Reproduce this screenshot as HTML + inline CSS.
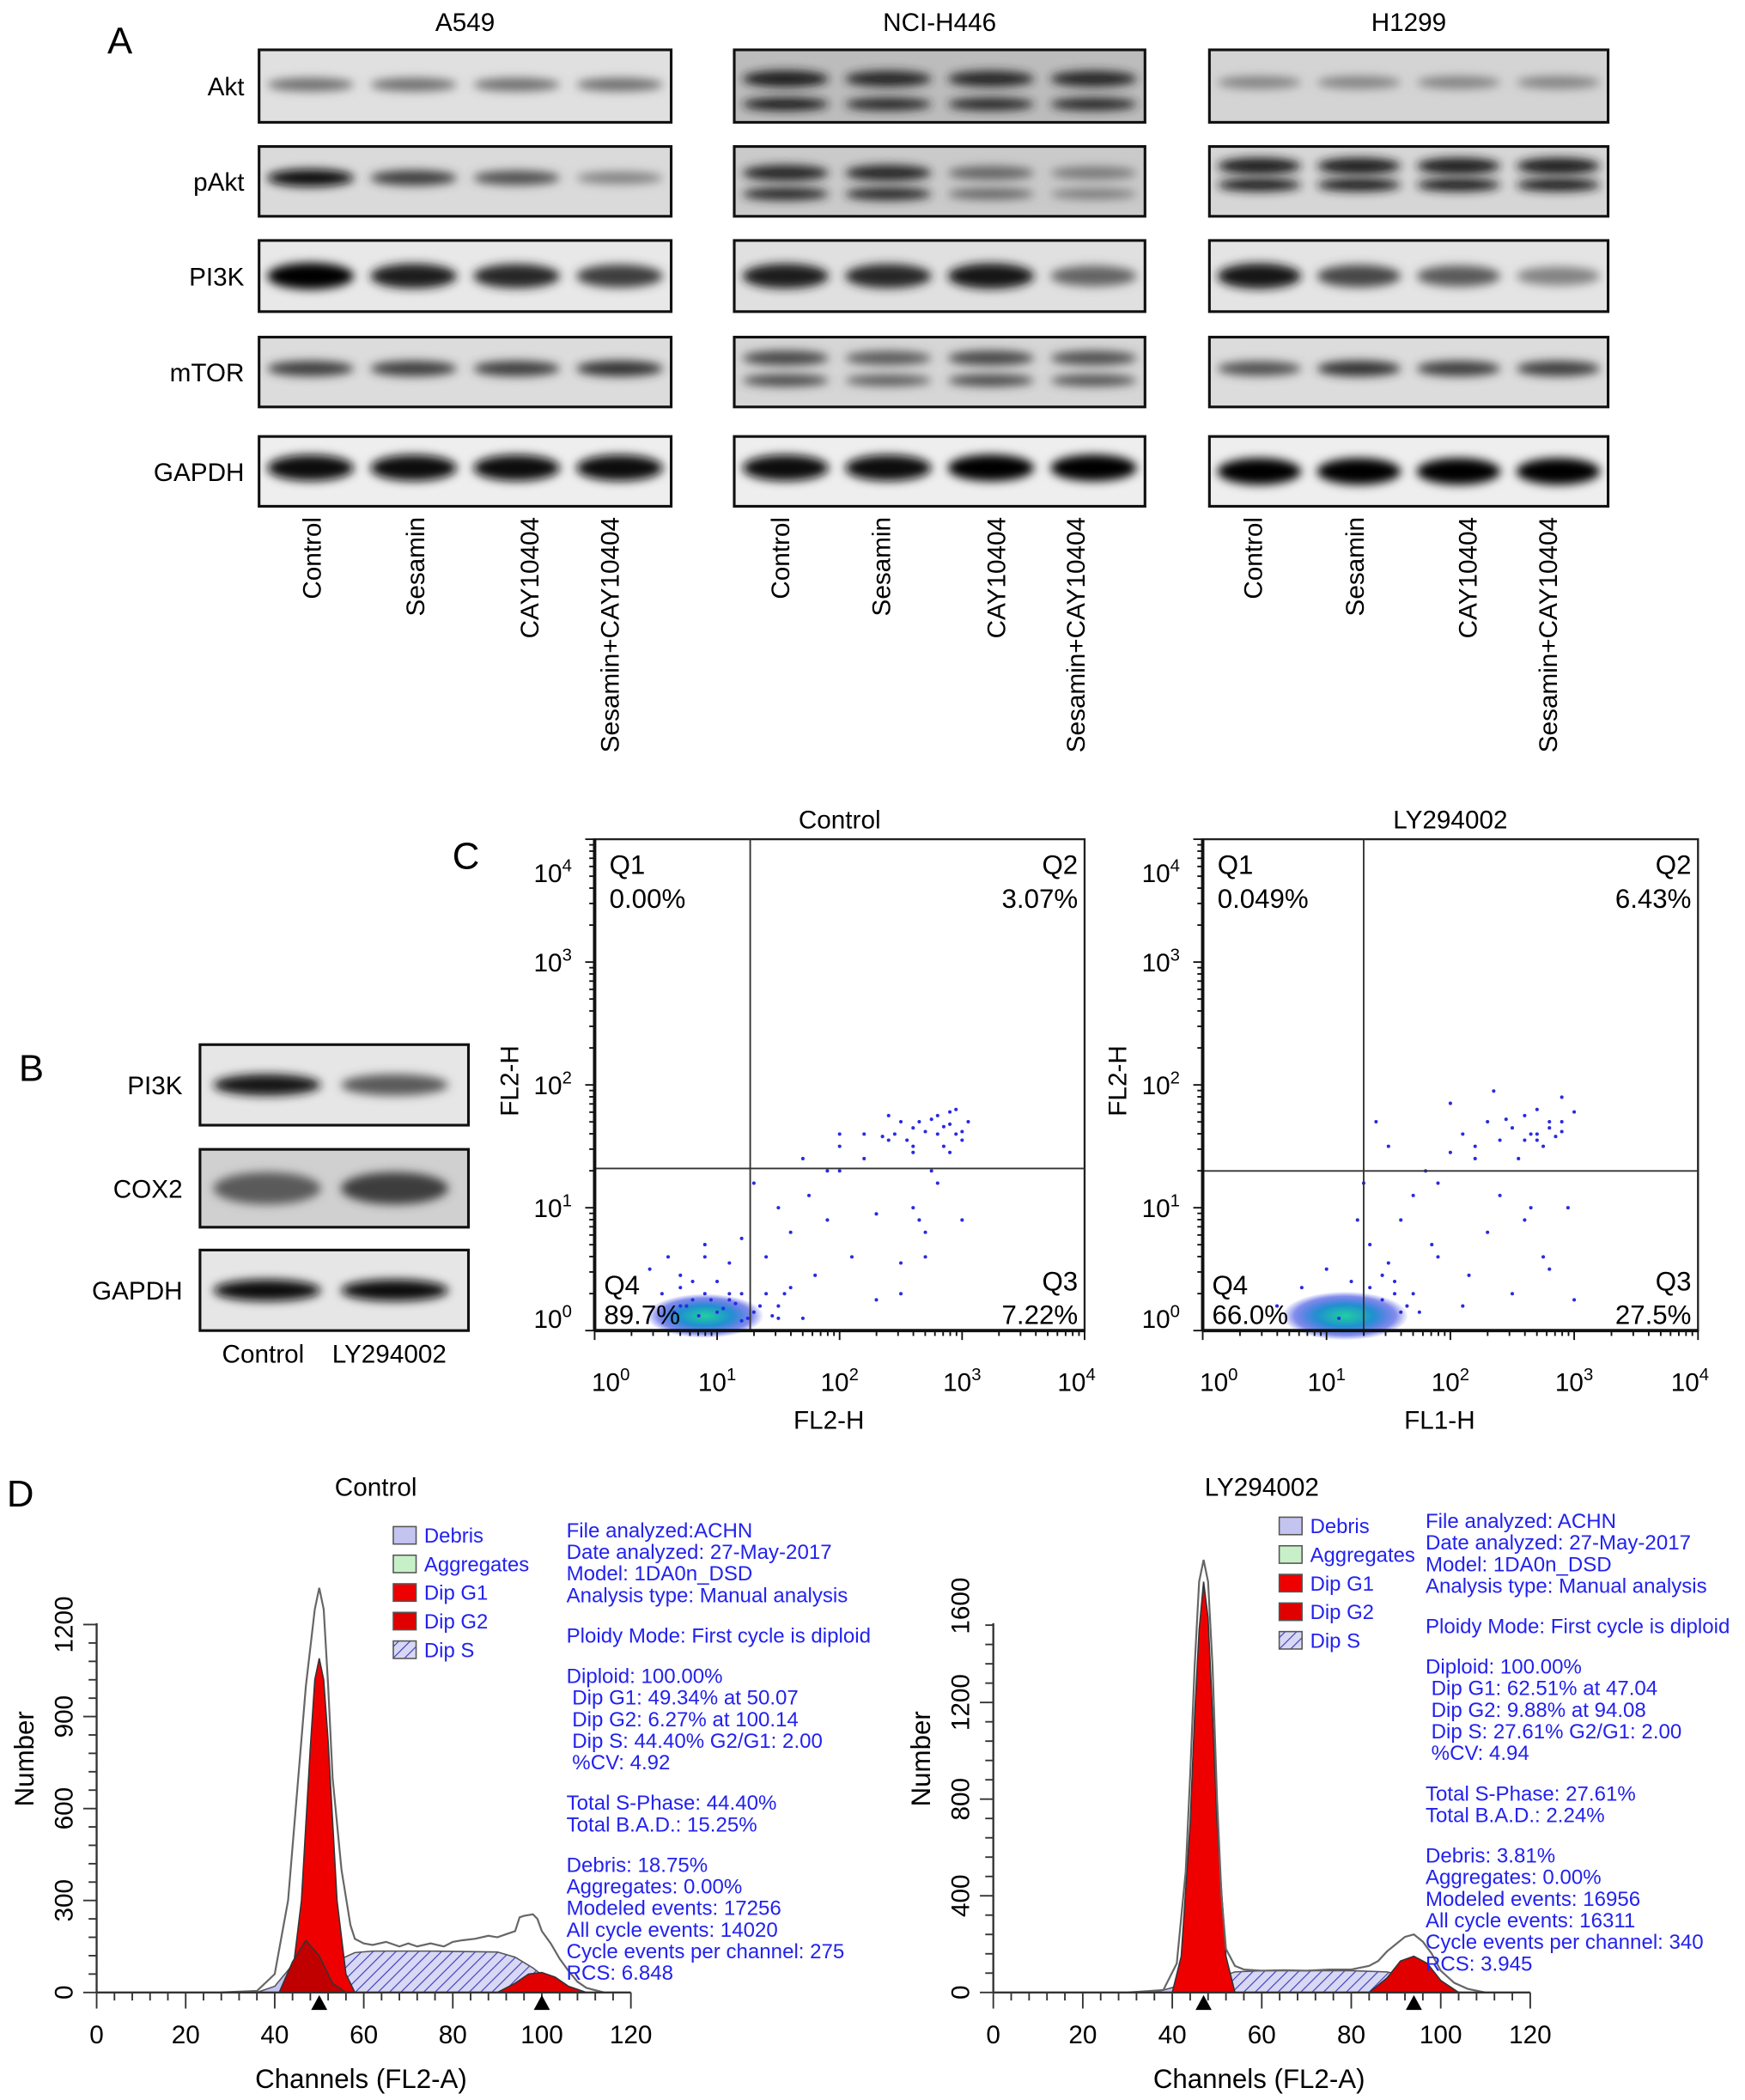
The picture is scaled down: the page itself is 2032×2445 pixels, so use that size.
<!DOCTYPE html>
<html><head><meta charset="utf-8"><style>
html,body{margin:0;padding:0;background:#fff}
svg{display:block}
text{font-family:"Liberation Sans",sans-serif}
</style></head><body>
<svg id="fig" width="2032" height="2445" viewBox="0 0 1300 1564" xmlns="http://www.w3.org/2000/svg">
<defs>
<filter id="blur" x="-50%" y="-100%" width="200%" height="300%"><feGaussianBlur stdDeviation="3.5"/></filter>
<pattern id="hatch" width="6" height="6" patternUnits="userSpaceOnUse" patternTransform="rotate(45)">
<rect width="6" height="6" fill="#d8d8f4"/><line x1="0" y1="0" x2="0" y2="6" stroke="#4040c0" stroke-width="1.5"/></pattern>
<radialGradient id="blob"><stop offset="0" stop-color="#20d0a0"/><stop offset="0.45" stop-color="#2090d0"/><stop offset="0.8" stop-color="#3040e0" stop-opacity="0.6"/><stop offset="1" stop-color="#3040e0" stop-opacity="0"/></radialGradient>
</defs>
<g id="panelA"></g>
<g id="panelB"></g>
<g id="panelC"></g>
<g id="panelD"></g>
</svg>
<script>
// ---------- Western blot data (band intensities 0..1 per lane) ----------
const blotPanels = ["A549","NCI-H446","H1299"];
const blotRows = ["Akt","pAkt","PI3K","mTOR","GAPDH"];
const a549Bands = [[0.45,0.45,0.45,0.45],[0.95,0.7,0.6,0.35],[1,0.85,0.8,0.7],[0.7,0.7,0.7,0.75],[0.95,0.95,0.95,0.95]];
const nciBands = [[0.85,0.8,0.8,0.8],[0.8,0.8,0.5,0.4],[0.85,0.8,0.9,0.5],[0.65,0.55,0.65,0.6],[0.95,0.95,1,1]];
const h1299Bands = [[0.35,0.35,0.35,0.35],[0.85,0.85,0.85,0.85],[0.9,0.65,0.55,0.35],[0.6,0.75,0.7,0.7],[1,1,1,1]];
const laneLabels = ["Control","Sesamin","CAY10404","Sesamin+CAY10404"];
const bRows = ["PI3K","COX2","GAPDH"];
const bBands = [[0.9,0.55],[0.55,0.7],[0.95,0.95]];
const bLanes = ["Control","LY294002"];

// ---------- Flow cytometry scatter data (log10 units) ----------
const ctrlX = [0.45,0.55,0.6,0.7,0.8,0.9,1.0,1.1,1.2,1.3,1.4,1.5,1.6,1.7,1.8,1.3,1.5,1.7,1.9,2.0,2.2,2.4,2.5,2.6,2.7,2.8,2.9,3.0,3.05,2.9,2.8,2.7,2.6,2.5,2.3,2.1,1.9,1.6,1.4,2.2,2.6,2.95,2.85,2.75,2.65,1.75,2.0,2.4,1.2,0.9,0.7,1.1,1.5,2.3,2.7,3.0,2.5,2.0,0.65,0.75,0.85,0.95,1.05,1.15,1.25,1.35,0.7,0.8,0.9,1.0,1.1,1.2,1.45,1.55,2.45,2.55,2.65,2.75,2.85,2.95,2.35,2.6,2.8,2.9,3.0];
const ctrlY = [0.5,0.3,0.6,0.45,0.25,0.7,0.4,0.55,0.3,0.15,0.6,0.2,0.35,0.1,0.45,1.2,1.0,1.4,1.3,1.6,1.4,1.55,1.7,1.5,1.62,1.75,1.68,1.55,1.7,1.45,1.2,0.8,1.0,0.55,0.25,0.6,0.9,0.8,0.3,1.6,1.65,1.8,1.5,1.3,0.9,1.1,1.5,1.75,0.75,0.6,0.2,0.3,0.1,0.95,0.6,0.9,0.3,1.3,0.15,0.2,0.12,0.25,0.18,0.22,0.1,0.2,0.35,0.4,0.3,0.15,0.25,0.08,0.12,0.3,1.6,1.55,1.7,1.72,1.66,1.6,1.58,1.45,1.6,1.78,1.62];
const lyX = [0.6,0.8,1.0,1.2,1.35,1.5,1.6,1.7,1.8,1.9,2.0,2.1,2.2,2.3,2.4,2.5,2.6,2.7,2.8,2.9,3.0,2.55,2.65,2.75,2.5,2.3,2.1,1.9,1.7,1.5,1.4,1.3,2.0,2.2,2.4,2.6,2.8,3.0,2.7,2.9,2.45,1.6,1.85,2.35,2.95,1.25,1.1,2.15,2.6,2.7,2.8,2.9,2.75,2.65,2.85,1.45,1.55,1.65,1.75,1.35,1.45,1.55];
const lyY = [0.2,0.35,0.5,0.4,0.7,0.55,0.9,1.1,1.3,1.2,1.45,1.6,1.5,1.7,1.55,1.65,1.75,1.8,1.7,1.62,1.78,1.4,1.0,0.6,0.3,0.8,0.2,0.6,0.3,1.5,1.7,1.2,1.85,1.4,1.1,0.9,0.5,0.25,1.55,1.9,1.72,0.15,0.7,1.95,1.0,0.9,0.1,0.45,1.55,1.6,1.65,1.7,1.5,1.6,1.58,0.25,0.3,0.2,0.15,0.35,0.45,0.4];
const logTicks = ["0","1","2","3","4"];

// ---------- Cell cycle histogram data (channel, count) ----------
const cHistCh = [28,36,40,43,45,47,49,50,51,52,53,55,57,58,60,62,65,68,70,72,75,78,80,82,85,88,90,92,94,95,96,98,99,100,102,104,106,108,110,114];
const cHistN  = [0,5,60,300,650,1000,1250,1320,1250,1000,700,400,220,175,160,155,165,150,160,150,160,150,165,170,175,185,180,190,200,245,250,255,240,200,160,110,70,35,15,0];
const cG1Ch = [42,44,46,48,49,50,51,52,54,56,58];
const cG1N  = [0,60,300,800,1020,1090,1020,820,300,60,0];
const cG1bCh = [41,44,47,50,53,56];
const cG1bN  = [0,100,170,120,30,0];
const cSCh = [49,52,55,58,62,75,90,94,98,102,106];
const cSN  = [0,50,110,130,135,135,132,115,80,35,0];
const cDebCh = [36,40,44,48,52,56,60,70,80,90,95,100,105,110];
const cDebN  = [0,20,90,120,90,60,45,45,45,45,40,30,15,0];
const cG2Ch = [90,94,97,100,103,106,110];
const cG2N  = [0,30,60,65,50,20,0];

const lHistCh = [30,38,41,43,44,45,46,47,48,49,50,51,52,54,56,60,65,70,75,80,84,86,88,90,92,94,96,98,100,103,106,110];
const lHistN  = [0,10,120,500,900,1350,1700,1790,1700,1350,800,400,180,110,95,90,92,90,95,95,110,130,170,200,230,240,210,160,90,40,15,0];
const lG1Ch = [40,42,44,45,46,47,48,49,50,52,54];
const lG1N  = [0,150,700,1150,1500,1700,1550,1150,700,150,0];
const lSCh = [46,50,54,60,80,88,92,96,100];
const lSN  = [0,60,85,90,90,85,70,40,0];
const lDebCh = [36,40,44,48,52,60,80,95,105];
const lDebN  = [0,20,60,60,30,20,15,10,0];
const lG2Ch = [84,88,91,94,97,100,104];
const lG2N  = [0,60,130,150,120,50,0];

const NS = "http://www.w3.org/2000/svg";
function mk(tag, attrs, parent, txt){
  const e = document.createElementNS(NS, tag);
  for (const k in attrs) e.setAttribute(k, attrs[k]);
  if (txt !== undefined) e.textContent = txt;
  parent.appendChild(e); return e;
}

// ---------- Panel A ----------
const A = document.getElementById('panelA');
let t = mk('text',{x:80,y:40,'font-size':28},A,'A');


const panelX = [[193,500],[547,853],[901,1198]];
const rowY = [[37,91],[109,161],[179,232],[251,303],[325,377]];
const bandOffsets = [[[0.48]],[[0.45]],[[0.5]],[[0.45]],[[0.45]]];
const nciOffsets = [[0.4,0.75],[0.38,0.68],[0.5],[0.3,0.62],[0.45]];
const hOffsets = [[0.45],[0.28,0.55],[0.5],[0.45],[0.5]];
const allBands = [a549Bands,nciBands,h1299Bands];
const bgs = [["#e0e0e0","#dadada","#e8e8e8","#dcdcdc","#eeeeee"],["#bcbcbc","#cacaca","#e0e0e0","#d6d6d6","#eeeeee"],["#d4d4d4","#d6d6d6","#e4e4e4","#dcdcdc","#eeeeee"]];
const laneCenters = [[233,310,395,455],[582,657,743,802],[934,1010,1094,1154]];
blotPanels.forEach((p,pi)=>{
  const cx = (panelX[pi][0]+panelX[pi][1])/2;
  t = mk('text',{x:cx,y:23,'font-size':19,'text-anchor':'middle'},A,p);
  
  
  blotRows.forEach((r,ri)=>{
    const [x0,x1] = panelX[pi]; const [y0,y1] = rowY[ri];
    const g = mk('g',{},A);
    
    
    mk('rect',{x:x0,y:y0,width:x1-x0,height:y1-y0,fill:bgs[pi][ri],stroke:'#111','stroke-width':2},g);
    const offs = pi===0?bandOffsets[ri][0]:(pi===1?nciOffsets[ri]:hOffsets[ri]);
    const w = (x1-x0)/4;
    allBands[pi][ri].forEach((v,li)=>{
      offs.forEach((o,oi)=>{
        const lc = x0 + w*(li+0.5);
        const gray = Math.round(200*(1-v));
        const band = mk('ellipse',{cx:lc,cy:y0+(y1-y0)*o,rx:w*0.42,ry:(ri===2||ri===4?9:6)*(0.6+0.5*v)*(oi?0.8:1),fill:`rgb(${gray},${gray},${gray})`,filter:'url(#blur)'},g);
        
        
      });
    });
    if (pi===0){
      t = mk('text',{x:182,y:(y0+y1)/2+7,'font-size':19,'text-anchor':'end'},A,r);
      
      
    }
  });
  laneLabels.forEach((l,li)=>{
    const x = laneCenters[pi][li]+6;
    t = mk('text',{x:x,y:385,'font-size':19,'text-anchor':'end',transform:`rotate(-90 ${x} 385)`},A,l);
    
    
  });
});

// ---------- Panel B ----------
const B = document.getElementById('panelB');
t = mk('text',{x:14,y:805,'font-size':28},B,'B');


const bY = [[778,838],[856,914],[931,991]];
bRows.forEach((r,ri)=>{
  const g = mk('g',{},B);
  
  
  mk('rect',{x:149,y:bY[ri][0],width:200,height:bY[ri][1]-bY[ri][0],fill:ri===1?'#d0d0d0':'#e6e6e6',stroke:'#111','stroke-width':2},g);
  bBands[ri].forEach((v,li)=>{
    const gray = Math.round(200*(1-v));
    const band = mk('ellipse',{cx:199+li*95,cy:(bY[ri][0]+bY[ri][1])/2,rx:40,ry:ri===1?12:8,fill:`rgb(${gray},${gray},${gray})`,filter:'url(#blur)'},g);
    
    
  });
  t = mk('text',{x:136,y:(bY[ri][0]+bY[ri][1])/2+7,'font-size':19,'text-anchor':'end'},B,r);
  
  
});
bLanes.forEach((l,li)=>{
  t = mk('text',{x:196+li*94,y:1015,'font-size':19,'text-anchor':'middle'},B,l);
  
  
});

// ---------- Panel C ----------
const C = document.getElementById('panelC');
t = mk('text',{x:337,y:647,'font-size':28},C,'C');


const plots = [
  {x0:443,x1:808,title:'Control',xl:'FL2-H',xs:ctrlX,ys:ctrlY,gx:1.27,gy:1.32,q:['Q1','0.00%','Q2','3.07%','Q3','7.22%','Q4','89.7%'],blob:[0.9,0.12,0.8,0.2]},
  {x0:896,x1:1265,title:'LY294002',xl:'FL1-H',xs:lyX,ys:lyY,gx:1.3,gy:1.3,q:['Q1','0.049%','Q2','6.43%','Q3','27.5%','Q4','66.0%'],blob:[1.15,0.12,0.85,0.22]}
];
plots.forEach((p,pi)=>{
  const g = mk('g',{},C);
  
  
  const y0 = 991, dec = 91.5, dx = (p.x1-p.x0)/4;
  const X = v=>p.x0+v*dx, Y = v=>y0-v*dec;
  t = mk('text',{x:(p.x0+p.x1)/2,y:617,'font-size':19,'text-anchor':'middle'},g,p.title);
  
  
  const b = mk('ellipse',{cx:X(p.blob[0]),cy:Y(p.blob[1]),rx:p.blob[2]*dx*0.6,ry:p.blob[3]*dec*0.9,fill:'url(#blob)'},g);
  
  
  p.xs.forEach((xv,i)=>{
    const d = mk('circle',{cx:X(xv),cy:Y(p.ys[i]),r:1.3,fill:'#2a2ae0'},g);
    
    
  });
  mk('rect',{x:p.x0,y:625,width:p.x1-p.x0,height:y0-625,fill:'none',stroke:'#222','stroke-width':1.5},g);
  mk('line',{x1:X(p.gx),y1:625,x2:X(p.gx),y2:y0,stroke:'#333','stroke-width':1.2},g);
  mk('line',{x1:p.x0,y1:Y(p.gy),x2:p.x1,y2:Y(p.gy),stroke:'#333','stroke-width':1.2},g);
  mk('line',{x1:p.x0,y1:y0,x2:p.x1,y2:y0,stroke:'#111','stroke-width':2.5},g);
  mk('line',{x1:p.x0,y1:625,x2:p.x0,y2:y0,stroke:'#111','stroke-width':2.5},g);
  logTicks.forEach((lt,k)=>{
    for (let m=1;m<10;m++){
      const v = k+Math.log10(m); if (v>4) break;
      const len = m===1?7:4;
      mk('line',{x1:X(v),y1:y0,x2:X(v),y2:y0+len,stroke:'#111','stroke-width':1.2},g);
      mk('line',{x1:p.x0,y1:Y(v),x2:p.x0-len,y2:Y(v),stroke:'#111','stroke-width':1.2},g);
    }
    t = mk('text',{x:X(+lt)+12*(k===0?1:(k===4?-0.5:0)),y:1036,'font-size':19,'text-anchor':'middle'},g);
    
    
    t.innerHTML = '10<tspan dy="-8" font-size="13">'+lt+'</tspan>';
    t = mk('text',{x:p.x0-17,y:Y(+lt)+(k===4?32:(k===0?-2:7)),'font-size':19,'text-anchor':'end'},g);
    
    
    t.innerHTML = '10<tspan dy="-8" font-size="13">'+lt+'</tspan>';
  });
  t = mk('text',{x:(p.x0+p.x1)/2-8,y:1064,'font-size':19,'text-anchor':'middle'},g,p.xl);
  
  
  const yx = p.x0-57;
  t = mk('text',{x:yx,y:805,'font-size':19,'text-anchor':'middle',transform:`rotate(-90 ${yx} 805)`},g,'FL2-H');
  
  
  const qpos = [[p.x0+11,651,'start'],[p.x0+11,676,'start'],[p.x1-5,651,'end'],[p.x1-5,676,'end'],[p.x1-5,961,'end'],[p.x1-5,986,'end'],[p.x0+7,964,'start'],[p.x0+7,986,'start']];
  p.q.forEach((s,i)=>{
    t = mk('text',{x:qpos[i][0],y:qpos[i][1],'font-size':20,'text-anchor':qpos[i][2]},g,s);
    
    
  });
});

// ---------- Panel D ----------
const D = document.getElementById('panelD');
t = mk('text',{x:5,y:1122,'font-size':28},D,'D');


const hists = [
  {x0:72,x1:470,y0:1484,per:68.5/300,ticks:[0,300,600,900,1200],title:'Control',tx:280,hc:cHistCh,hn:cHistN,g1:[cG1Ch,cG1N],g1b:[cG1bCh,cG1bN],s:[cSCh,cSN],deb:[cDebCh,cDebN],g2:[cG2Ch,cG2N],mk:[50,100],lx:293,ly:1144,tx0:422,ty:1140,
   txt:[['File analyzed:ACHN','Date analyzed: 27-May-2017','Model: 1DA0n_DSD','Analysis type: Manual analysis'],['Ploidy Mode: First cycle is diploid'],['Diploid: 100.00%',' Dip G1: 49.34% at 50.07',' Dip G2: 6.27% at 100.14',' Dip S: 44.40% G2/G1: 2.00',' %CV: 4.92'],['Total S-Phase: 44.40%','Total B.A.D.: 15.25%'],['Debris: 18.75%','Aggregates: 0.00%','Modeled events: 17256','All cycle events: 14020','Cycle events per channel: 275','RCS: 6.848']]},
  {x0:740,x1:1140,y0:1484,per:72/400,ticks:[0,400,800,1200,1600],title:'LY294002',tx:940,hc:lHistCh,hn:lHistN,g1:[lG1Ch,lG1N],g1b:null,s:[lSCh,lSN],deb:[lDebCh,lDebN],g2:[lG2Ch,lG2N],mk:[47,94],lx:953,ly:1137,tx0:1062,ty:1133,
   txt:[['File analyzed: ACHN','Date analyzed: 27-May-2017','Model: 1DA0n_DSD','Analysis type: Manual analysis'],['Ploidy Mode: First cycle is diploid'],['Diploid: 100.00%',' Dip G1: 62.51% at 47.04',' Dip G2: 9.88% at 94.08',' Dip S: 27.61% G2/G1: 2.00',' %CV: 4.94'],['Total S-Phase: 27.61%','Total B.A.D.: 2.24%'],['Debris: 3.81%','Aggregates: 0.00%','Modeled events: 16956','All cycle events: 16311','Cycle events per channel: 340','RCS: 3.945']]}
];
hists.forEach((h,hi)=>{
  const g = mk('g',{},D);
  
  
  const X = c=>h.x0+(h.x1-h.x0)*c/120, Y = n=>h.y0-n*h.per;
  const area = (arr,fill,stroke,name)=>{
    let d = `M${X(arr[0][0])},${Y(0)}`;
    arr[0].forEach((c,i)=>{ d += ` L${X(c)},${Y(arr[1][i])}`; });
    d += ` L${X(arr[0][arr[0].length-1])},${Y(0)} Z`;
    const e = mk('path',{d:d,fill:fill,stroke:stroke,'stroke-width':1},g);
    
    
  };
  area(h.deb,'#c4c4f0','#555','debris-area');
  area(h.s,'url(#hatch)','#555','dip-s-area');
  area(h.g1,'#ee0000','#333','dip-g1-area');
  if (h.g1b) area(h.g1b,'#c00000','#333','dip-g1-shoulder');
  area(h.g2,'#e00000','#333','dip-g2-area');
  let d = '';
  h.hc.forEach((c,i)=>{ d += (i?' L':'M')+X(c)+','+Y(h.hn[i]); });
  let e = mk('path',{d:d,fill:'none',stroke:'#666','stroke-width':1.4},g);
  
  
  mk('line',{x1:h.x0,y1:h.y0,x2:h.x1,y2:h.y0,stroke:'#333','stroke-width':1.5},g);
  mk('line',{x1:h.x0,y1:h.y0,x2:h.x0,y2:h.y0-275,stroke:'#333','stroke-width':1.5},g);
  for (let c=0;c<=120;c+=2){
    const len = c%20===0?12:(c%10===0?8:6);
    if (c%4!==0 && c%20!==0) continue;
    mk('line',{x1:X(c),y1:h.y0,x2:X(c),y2:h.y0+len,stroke:'#333','stroke-width':1.2},g);
    if (c%20===0){
      t = mk('text',{x:X(c),y:1522,'font-size':19,'text-anchor':'middle'},g,String(c));
      
      
    }
  }
  const step = h.ticks[1]/5;
  for (let n=0;Y(n)>=h.y0-275;n+=step){
    mk('line',{x1:h.x0,y1:Y(n),x2:h.x0-(n%h.ticks[1]===0?10:6),y2:Y(n),stroke:'#333','stroke-width':1.2},g);
  }
  h.ticks.forEach(v=>{
    const tx = h.x0-18;
    t = mk('text',{x:tx,y:Y(v),'font-size':19,'text-anchor':'middle',transform:`rotate(-90 ${tx} ${Y(v)})`},g,String(v));
    
    
  });
  h.mk.forEach(c=>{
    const m = mk('path',{d:`M${X(c)-6},${h.y0+13} L${X(c)+6},${h.y0+13} L${X(c)},${h.y0+2} Z`,fill:'#000'},g);
    
    
  });
  t = mk('text',{x:h.tx,y:1114,'font-size':19,'text-anchor':'middle'},g,h.title);
  
  
  t = mk('text',{x:(h.x0+h.x1)/2-2,y:1555,'font-size':20,'text-anchor':'middle'},g,'Channels (FL2-A)');
  
  
  const nx = h.x0-47;
  t = mk('text',{x:nx,y:1310,'font-size':20,'text-anchor':'middle',transform:`rotate(-90 ${nx} 1310)`},g,'Number');
  
  
  const legs = [['Debris','#c4c4f0'],['Aggregates','#c8f0c8'],['Dip G1','#ee0000'],['Dip G2','#e00000'],['Dip S','url(#hatch)']];
  legs.forEach((l,i)=>{
    const lg = mk('g',{},g);
    
    
    mk('rect',{x:h.lx,y:h.ly+i*21.3-7,width:17,height:13,fill:l[1],stroke:'#555','stroke-width':1},lg);
    mk('text',{x:h.lx+23,y:h.ly+i*21.3+5,'font-size':15.3,fill:'#2222ee'},lg,l[0]);
  });
  let yy = h.ty;
  h.txt.forEach((grp,gi)=>{
    grp.forEach(line=>{
      t = mk('text',{x:h.tx0,y:yy+5,'font-size':15.4,fill:'#2222ee'},g,line.replace(/^ /,'\u00a0'));
      
      
      yy += 16.1;
    });
    yy += 14;
  });
});
</script>
</body></html>
